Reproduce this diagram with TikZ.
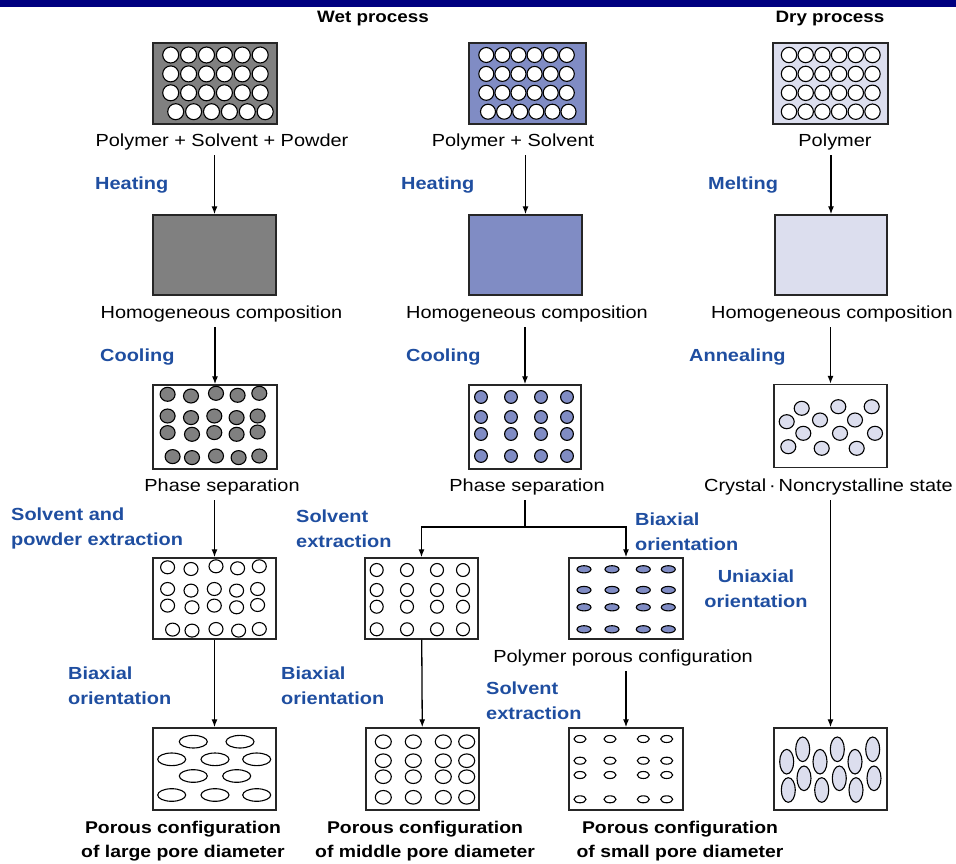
\documentclass[tikz,border=0pt]{standalone}
\usepackage{fontspec}
\setmainfont{Liberation Sans}[FakeStretch=1.14]
\usetikzlibrary{arrows.meta}

\definecolor{navy}{RGB}{0,0,128}
\definecolor{labelblue}{RGB}{31,78,160}
\definecolor{wetgray}{RGB}{128,128,128}
\definecolor{wetblue}{RGB}{128,140,196}
\definecolor{drylilac}{RGB}{220,222,238}

\tikzset{
  box/.style={draw=black!85, line width=1.4pt, inner sep=0pt, minimum height=81pt},
  hole/.style={draw=black, line width=1.1pt},
  caption/.style={font=\fontsize{17.5}{20}\selectfont, inner sep=0pt},
  stage/.style={font=\fontsize{17.5}{25}\selectfont\bfseries, text=labelblue, align=left, anchor=west, inner sep=0pt},
  result/.style={font=\fontsize{17}{24}\selectfont\bfseries, align=center, inner sep=0pt},
  flow/.style={line width=1.3pt, -{Latex[length=8pt,width=6pt]}},
}

\begin{document}
\begin{tikzpicture}[x=1pt, y=-1pt]
\useasboundingbox (0,0) rectangle (956,864);

% title bar
\fill[navy] (0,0) rectangle (956,7.5);
\node[result, font=\fontsize{16.5}{20}\selectfont\bfseries] (wet) at (373,19) {Wet process};
\node[result, font=\fontsize{16.5}{20}\selectfont\bfseries] (dry) at (830,19) {Dry process};

% boxes
\node[box, fill=wetgray, minimum width=124pt] (b11) at (215,83.5) {};
\node[box, fill=wetblue, minimum width=117pt] (b12) at (527.5,83.5) {};
\node[box, fill=drylilac, minimum width=115pt] (b13) at (830.5,83.5) {};

\node[box, fill=wetgray, minimum width=123pt, minimum height=80pt] (b21) at (214.5,255) {};
\node[box, fill=wetblue, minimum width=113pt, minimum height=80pt] (b22) at (525.5,255) {};
\node[box, fill=drylilac, minimum width=112pt, minimum height=80pt] (b23) at (831,255) {};

\node[box, minimum width=124pt, minimum height=84pt] (b31) at (215,427) {};
\node[box, minimum width=112pt, minimum height=84pt] (b32) at (525,427) {};
\node[box, minimum width=113pt, minimum height=83pt] (b33) at (830.5,426) {};

\node[box, minimum width=123pt] (b41) at (214.5,598.5) {};
\node[box, minimum width=113pt] (b42a) at (421.5,598.5) {};
\node[box, minimum width=114pt] (b42b) at (626,598.5) {};

\node[box, minimum width=123pt, minimum height=82pt] (b51) at (214.5,769) {};
\node[box, minimum width=113pt, minimum height=82pt] (b52a) at (422.5,769) {};
\node[box, minimum width=114pt, minimum height=82pt] (b52b) at (626,769) {};
\node[box, minimum width=113pt, minimum height=82pt] (b53) at (830.5,769) {};

% holes, first row
\foreach \r in {0,...,3} \foreach \c in {0,...,5} {
  \draw[hole, fill=white] ({170.7+17.9*\c+(\r==3)*5}, {55+18.9*\r}) circle (8pt);
  \draw[hole, fill=white] ({486.3+16.1*\c+(\r==3)*1.7}, {55+18.9*\r}) circle (7.5pt);
  \draw[hole, fill=white] ({789+16.7*\c}, {55+18.9*\r}) circle (7.7pt);
}

% phase separation
\newcommand{\drops}{15.3/10, 38.7/11.7, 63.7/9, 85.3/11, 107/9,
  15.3/31.7, 38.7/33.3, 62/31.7, 84.3/33.3, 105.3/31.7,
  15.3/48.3, 39.7/50, 62/48.3, 84.3/50, 105.3/47.7,
  20.3/72.3, 39.7/73.3, 63.7/71.7, 86.3/73.3, 107/71.7}
\foreach \x/\y in \drops {
  \draw[hole, fill=wetgray] ([shift={(\x,\y)}]b31.north west) ellipse [x radius=7.5pt, y radius=7pt];
  \draw[hole, fill=white] ([shift={(\x,\y)}]b41.north west) ellipse [x radius=7pt, y radius=6.5pt];
}
\foreach \x in {481,511,541,567} \foreach \y in {397,417,434,456}
  \draw[hole, fill=wetblue] (\x,\y) circle (6.4pt);
\foreach \x/\y in {801.7/408.3, 838.3/406.7, 871.7/406.7, 786.7/421.7, 820/420, 855/420,
  803.3/433.3, 840/433.3, 875/433.3, 788.3/446.7, 821.7/448.3, 856.7/448.3}
  \draw[hole, fill=drylilac] (\x,\y) ellipse [x radius=7.5pt, y radius=7pt];

% after extraction / orientation
\foreach \x in {376.7,407,437,463} \foreach \y in {570,590,606.7,629.3}
  \draw[hole, fill=white] (\x,\y) circle (6.5pt);
\foreach \x in {584,612,643.3,668.3} \foreach \y in {569.3,590,607.3,629.3}
  \draw[hole, fill=wetblue] (\x,\y) ellipse [x radius=7pt, y radius=3.6pt];

% final pores
\foreach \x/\y in {193.3/741.7, 240/741.7, 171.7/759.3, 215/759.3, 256.7/759.3,
  193.3/776, 236.7/776, 171.7/795, 215/795, 256.7/795}
  \draw[hole, fill=white] (\x,\y) ellipse [x radius=14pt, y radius=6.3pt];
\foreach \x in {383.3,413.3,443.3,466.7} \foreach \y in {741.7,760.7,776.7,797.3}
  \draw[hole, fill=white] (\x,\y) ellipse [x radius=8pt, y radius=6.8pt];
\foreach \x in {580,610,643.3,666.7} \foreach \y in {739,760.7,775,799.3}
  \draw[hole, fill=white] (\x,\y) ellipse [x radius=6pt, y radius=3.5pt];
\foreach \x/\y in {802.7/749.3, 837.3/749.3, 872.7/749.3, 786.7/761.7, 820/761.7, 855/761.7,
  804/778.3, 839.3/778.3, 874/778.3, 788.3/790, 821.7/790, 856/790}
  \draw[hole, fill=drylilac] (\x,\y) ellipse [x radius=7pt, y radius=12.3pt];

% captions
\node[caption] (c11) at (222,142) {Polymer + Solvent + Powder};
\node[caption] (c12) at (513,142) {Polymer + Solvent};
\node[caption] (c13) at (835,142) {Polymer};
\node[caption] (c21) at (221.5,314) {Homogeneous composition};
\node[caption] (c22) at (527,314) {Homogeneous composition};
\node[caption] (c23) at (832,314) {Homogeneous composition};
\node[caption] (c31) at (222,487) {Phase separation};
\node[caption] (c32) at (527,487) {Phase separation};
\node[caption, anchor=east] (c33) at (953,487) {Crystal\,·\,Noncrystalline state};
\node[caption] (c42) at (623,658) {Polymer porous configuration};

% steps
\node[stage] (heat1) at (95,185) {Heating};
\node[stage] (heat2) at (401,185) {Heating};
\node[stage] (melt) at (708,185) {Melting};
\node[stage] (cool1) at (100,357) {Cooling};
\node[stage] (cool2) at (406,357) {Cooling};
\node[stage] (anneal) at (689,357) {Annealing};
\node[stage] (ext1) at (11,528.5) {Solvent and\\powder extraction};
\node[stage] (ext2) at (296,528.5) {Solvent\\extraction};
\node[stage] (biax3) at (635,531.5) {Biaxial\\orientation};
\node[stage, anchor=center, align=center] (uniax) at (756,589) {Uniaxial\\orientation};
\node[stage] (biax1) at (68,685.5) {Biaxial\\orientation};
\node[stage] (biax2) at (281,685.5) {Biaxial\\orientation};
\node[stage] (ext3) at (486,700.5) {Solvent\\extraction};

% results
\node[result] (res1) at (183,841) {Porous configuration\\of large pore diameter};
\node[result] (res2) at (425,841) {Porous configuration\\of middle pore diameter};
\node[result] (res3) at (680,841) {Porous configuration\\of small pore diameter};

% arrows
\draw[flow, shorten <=5pt] (c11.south -| b21.north) -- (b21.north);
\draw[flow, shorten <=5pt] (c12.south -| b22.north) -- (b22.north);
\draw[flow, shorten <=5pt] (c13.south -| b23.north) -- (b23.north);
\draw[flow, shorten <=5pt] (c21.south -| b31.north) -- (b31.north);
\draw[flow, shorten <=5pt] (c22.south -| b32.north) -- (b32.north);
\draw[flow, shorten <=5pt] (c23.south -| b33.north) -- (b33.north);
\draw[flow, shorten <=5pt] (c31.south -| b41.north) -- (b41.north);
\draw[flow] (b41) -- (b51);
\coordinate (fork) at (525,527);
\draw[line width=1.3pt, shorten <=5pt] (c32.south -| fork) -- (fork);
\draw[flow] (fork) -| (b42a.north);
\draw[flow] (fork) -| (b42b.north);
\draw[flow] (b42a) -- (b52a);
\draw[flow, shorten <=5pt] (c42.south -| b52b.north) -- (b52b.north);
\draw[flow, shorten <=5pt] (c33.south -| b53.north) -- (b53.north);

\end{tikzpicture}
\end{document}
